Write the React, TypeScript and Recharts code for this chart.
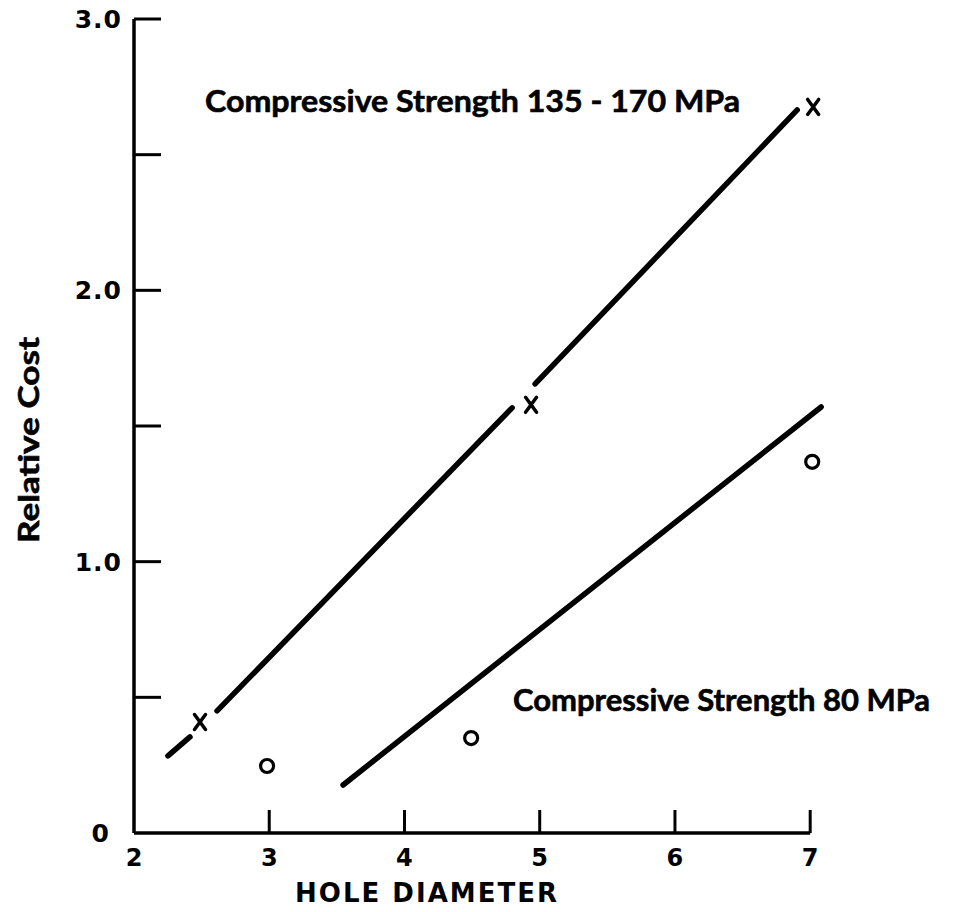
import React from "react";
import {
  ComposedChart,
  Line,
  Scatter,
  XAxis,
  YAxis,
  ReferenceDot,
  ReferenceLine,
  Label,
} from "recharts";

// ---- data ----
const xTicks = [2, 3, 4, 5, 6, 7];
const yTicks = [0, 0.5, 1, 1.5, 2, 2.5, 3];
const xAxisExtent = [2, 7];
const yAxisExtent = [0, 3];

// upper fitted line (135 - 170 MPa), broken around markers
const upperSeg1 = [
  { x: 2.251, y: 0.284 },
  { x: 2.414, y: 0.354 },
];
const upperSeg2 = [
  { x: 2.614, y: 0.45 },
  { x: 4.796, y: 1.567 },
];
const upperSeg3 = [
  { x: 4.966, y: 1.655 },
  { x: 6.904, y: 2.665 },
];
// lower fitted line (80 MPa)
const lowerLine = [
  { x: 3.546, y: 0.177 },
  { x: 7.081, y: 1.57 },
];

const crossPoints = [
  { x: 2.488, y: 0.409 },
  { x: 4.936, y: 1.578 },
  { x: 7.022, y: 2.676 },
];
const circlePoints = [
  { x: 2.984, y: 0.247 },
  { x: 4.493, y: 0.35 },
  { x: 7.015, y: 1.368 },
];

const label1 = "Compressive Strength 135 - 170 MPa";
const label2 = "Compressive Strength 80 MPa";
const xTitle = "HOLE DIAMETER";
const yTitle = "Relative Cost";

const INK = "#000";
const TICK_FONT = "'DejaVu Sans', 'Liberation Sans', sans-serif";
const ANN_FONT = "Lato, 'Open Sans', sans-serif";

const YTick = (props: any) => {
  const { x, y, payload } = props;
  const v = payload.value as number;
  const showLabel = Math.abs(v - Math.round(v)) < 1e-9;
  const txt = v === 0 ? "0" : v.toFixed(1);
  return (
    <g>
      {v !== 0 && (
        <line x1={x} x2={x + 27} y1={y} y2={y} stroke={INK} strokeWidth={3} />
      )}
      {showLabel && (
        <text
          x={v === 0 ? x - 24 : x - 12}
          y={y + 9}
          textAnchor="end"
          fontFamily={TICK_FONT}
          fontWeight={700}
          fontSize={25}
          letterSpacing={1}
          fill={INK}
        >
          {txt}
        </text>
      )}
    </g>
  );
};

const XTick = (props: any) => {
  const { x, y, payload } = props;
  const v = payload.value as number;
  return (
    <g>
      {v !== 2 && (
        <line x1={x} x2={x} y1={y} y2={y - 23} stroke={INK} strokeWidth={3} />
      )}
      <text
        x={x}
        y={y + 33}
        textAnchor="middle"
        fontFamily={TICK_FONT}
        fontWeight={700}
        fontSize={24}
        fill={INK}
      >
        {v}
      </text>
    </g>
  );
};

const CrossShape = (props: any) => {
  const { cx, cy } = props;
  const s = 6.5;
  return (
    <g stroke={INK} strokeWidth={3.5} strokeLinecap="round">
      <line x1={cx - s + 1} y1={cy - s - 1} x2={cx + s - 1} y2={cy + s + 1} />
      <line x1={cx + s - 1} y1={cy - s - 1} x2={cx - s + 1} y2={cy + s + 1} />
    </g>
  );
};

const CircleShape = (props: any) => {
  const { cx, cy } = props;
  return <circle cx={cx} cy={cy} r={6.5} fill="none" stroke={INK} strokeWidth={3.2} />;
};

const annotation = (text: string, width: number) => (p: any) => {
  const vb = p.viewBox || {};
  return (
    <text
      x={vb.x}
      y={vb.y}
      fontFamily={ANN_FONT}
      fontWeight={700}
      fontSize={30}
      textLength={width}
      lengthAdjust="spacingAndGlyphs"
      fill={INK}
      stroke={INK}
      strokeWidth={0.6}
    >
      {text}
    </text>
  );
};

export default function App() {
  const lineProps = {
    type: "linear" as const,
    dataKey: "y",
    stroke: INK,
    strokeWidth: 5.5,
    dot: false,
    activeDot: false,
    isAnimationActive: false,
    strokeLinecap: "round" as const,
  };
  return (
    <div style={{ position: "absolute", left: 0, top: 0, background: "#fff" }}>
      <ComposedChart
        width={958}
        height={912}
        margin={{ top: 19, left: 74, right: 114, bottom: 49 }}
      >
        <XAxis
          type="number"
          dataKey="x"
          domain={[2, 7.25]}
          ticks={xTicks}
          interval={0}
          height={30}
          tickSize={0}
          tickMargin={0}
          tick={<XTick />}
          axisLine={false}
          tickLine={false}
        >
          <Label
            content={() => (
              <text
                x={426}
                y={902}
                textAnchor="middle"
                fontFamily={TICK_FONT}
                fontWeight={700}
                fontSize={26}
                textLength={262}
                lengthAdjust="spacing"
                fill={INK}
              >
                {xTitle}
              </text>
            )}
          />
        </XAxis>
        <YAxis
          type="number"
          dataKey="y"
          domain={[0, 3]}
          ticks={yTicks}
          interval={0}
          width={60}
          tickSize={0}
          tickMargin={0}
          tick={<YTick />}
          axisLine={false}
          tickLine={false}
        >
          <Label
            content={() => (
              <text
                x={28}
                y={440}
                transform="rotate(-90 28 440)"
                textAnchor="middle"
                dominantBaseline="central"
                fontFamily={ANN_FONT}
                fontWeight={700}
                fontSize={28}
                textLength={206}
                lengthAdjust="spacingAndGlyphs"
                fill={INK}
                stroke={INK}
                strokeWidth={0.6}
              >
                {yTitle}
              </text>
            )}
          />
        </YAxis>
        <ReferenceLine
          segment={[
            { x: xAxisExtent[0], y: yAxisExtent[0] },
            { x: xAxisExtent[1], y: yAxisExtent[0] },
          ]}
          stroke={INK}
          strokeWidth={3.5}
          ifOverflow="visible"
        />
        <ReferenceLine
          segment={[
            { x: xAxisExtent[0], y: yAxisExtent[0] },
            { x: xAxisExtent[0], y: yAxisExtent[1] },
          ]}
          stroke={INK}
          strokeWidth={3.5}
          ifOverflow="visible"
        />
        <Line {...lineProps} data={upperSeg1} />
        <Line {...lineProps} data={upperSeg2} />
        <Line {...lineProps} data={upperSeg3} />
        <Line {...lineProps} data={lowerLine} />
        <Scatter data={crossPoints} shape={<CrossShape />} isAnimationActive={false} />
        <Scatter data={circlePoints} shape={<CircleShape />} isAnimationActive={false} />
        <ReferenceDot
          x={2.525}
          y={2.657}
          r={0}
          fill="none"
          stroke="none"
          ifOverflow="visible"
          label={annotation(label1, 535)}
        />
        <ReferenceDot
          x={4.803}
          y={0.45}
          r={0}
          fill="none"
          stroke="none"
          ifOverflow="visible"
          label={annotation(label2, 417)}
        />
      </ComposedChart>
    </div>
  );
}
